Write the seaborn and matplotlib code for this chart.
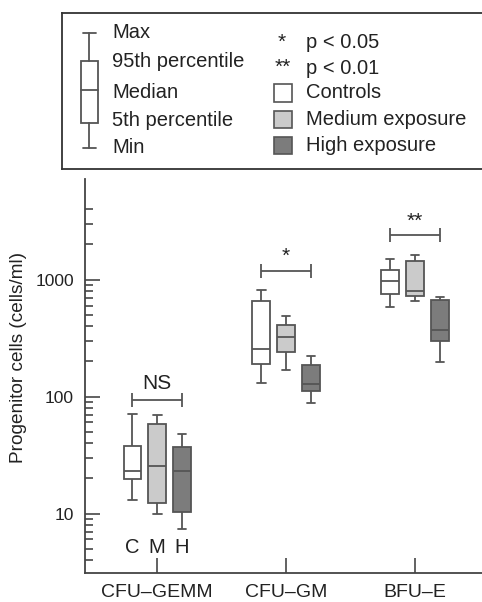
import matplotlib.pyplot as plt
from matplotlib.patches import Rectangle
from matplotlib.ticker import FixedLocator, NullFormatter
import pandas as pd
import seaborn as sns

# categories and groups
progenitors = ["CFU\u2013GEMM", "CFU\u2013GM", "BFU\u2013E"]
groups = ["Controls", "Medium exposure", "High exposure"]
group_letters = ["C", "M", "H"]
group_colors = ["#ffffff", "#cbcbcb", "#7c7c7c"]

# min, 5th percentile, median, 95th percentile, max  (cells/ml)
gemm_stats = [[13, 19.6, 23, 38, 71], [10, 12.2, 25.6, 57.7, 70], [7.4, 10.4, 23, 37.4, 47.6]]
gm_stats = [[131, 191, 254, 661, 809], [169, 239, 320, 405, 491], [88.5, 111, 129, 185, 223]]
bfue_stats = [[583, 748, 975, 1202, 1506], [661, 719, 805, 1446, 1607], [199, 301, 367, 670, 705]]

sig_labels = ["NS", "*", "**"]
sig_levels = [93, 1195, 2398]

LINE = "#555555"
TXT = "#222222"
LEG_FS = 14.5

sns.set_style("ticks")
plt.rcParams['font.family'] = ['Liberation Sans', 'DejaVu Sans']

rows = []
for prog, stats in zip(progenitors, [gemm_stats, gm_stats, bfue_stats]):
    for grp, vals in zip(groups, stats):
        for v in vals:
            rows.append({"progenitor": prog, "group": grp, "cells": v})
df = pd.DataFrame(rows)

fig = plt.figure(figsize=(4.82, 6.02), dpi=100)
ax = fig.add_axes([85 / 482, 1 - 573 / 602, 397 / 482, 393.7 / 602])

box_width = 0.58
sns.boxplot(data=df, x="progenitor", y="cells", hue="group",
            order=progenitors, hue_order=groups,
            palette=group_colors, whis=(0, 100), width=box_width, gap=0.3,
            log_scale=True, linecolor=LINE, linewidth=1.3, fliersize=0,
            legend=False, ax=ax)

offset = box_width / 3

# significance brackets
for i, (lab, lev) in enumerate(zip(sig_labels, sig_levels)):
    ax.errorbar(i, lev, xerr=offset, color=LINE, lw=1.3, capsize=5, capthick=1.3)
    mult = 1.39 if lab == "NS" else 1.31
    ax.text(i, lev * mult, lab, ha="center", va="center",
            fontsize=15, color=TXT)

# C / M / H letters under first group
for j, letter in enumerate(group_letters):
    ax.text(0 + (j - 1) * offset, 5.1, letter, ha="center", va="center",
            fontsize=14.5, color=TXT)

ax.set_xlim(-0.56, 2.52)
ax.set_ylim(3.1, 7200)
ax.yaxis.set_major_locator(FixedLocator([10, 100, 1000]))
ax.set_yticklabels(["10", "100", "1000"])
minor = [4, 5, 6, 7, 8, 9] + [20, 30, 40, 50, 60, 70, 80, 90] + \
        [200, 300, 400, 500, 600, 700, 800, 900] + [2000, 3000, 4000]
ax.yaxis.set_minor_locator(FixedLocator(minor))
ax.yaxis.set_minor_formatter(NullFormatter())

ax.tick_params(axis="y", which="major", direction="in", length=11, width=1.3,
               color=LINE, labelsize=12.5, pad=8, labelcolor=TXT)
ax.tick_params(axis="y", which="minor", direction="in", length=6, width=1.3, color=LINE)
ax.tick_params(axis="x", direction="in", length=11, width=1.3, color=LINE,
               labelsize=14, pad=8, labelcolor=TXT)

ax.set_xlabel("")
ax.set_ylabel("Progenitor cells (cells/ml)", fontsize=13.7, color=TXT)
ax.yaxis.set_label_coords(-0.146, 0.547)
for side in ["top", "right"]:
    ax.spines[side].set_visible(False)
for side in ["left", "bottom"]:
    ax.spines[side].set_color("#444444")
    ax.spines[side].set_linewidth(1.3)

# legend panel, in pixel units of its own box
lax = fig.add_axes([62 / 482, 1 - 169 / 602, 422 / 482, 156 / 602])
lax.set_xlim(0, 422)
lax.set_ylim(156, 0)
lax.set_xticks([])
lax.set_yticks([])
lax.patch.set_alpha(0)
for side, sp in lax.spines.items():
    sp.set_color("#333333")
    sp.set_linewidth(1.3)
lax.spines["right"].set_visible(False)

gx = 27.3
lax.plot([gx, gx], [19.7, 48], color=LINE, lw=1.3)
lax.plot([gx, gx], [110, 135], color=LINE, lw=1.3)
lax.plot([21, 34], [19.7, 19.7], color=LINE, lw=1.3)
lax.plot([21, 34], [135, 135], color=LINE, lw=1.3)
lax.add_patch(Rectangle((19, 48), 16.7, 62, facecolor="white", edgecolor=LINE, lw=1.3))
lax.plot([19, 35.7], [77, 77], color=LINE, lw=1.3)

stat_names = ["Max", "95th percentile", "Median", "5th percentile", "Min"]
stat_y = [19.5, 48.5, 79, 108, 134.5]
for name, y in zip(stat_names, stat_y):
    lax.text(50, y, name, ha="left", va="center", fontsize=LEG_FS, color=TXT)

lax.text(220, 29, "*", ha="center", va="center", fontsize=15, color=TXT)
lax.text(244, 30, "p < 0.05", ha="left", va="center", fontsize=LEG_FS, color=TXT)
lax.text(221, 54, "**", ha="center", va="center", fontsize=15, color=TXT)
lax.text(244, 55, "p < 0.01", ha="left", va="center", fontsize=LEG_FS, color=TXT)

for grp, col, y in zip(groups, group_colors, [80, 106.5, 132.5]):
    lax.add_patch(Rectangle((212, y - 8.7), 18, 17.4, facecolor=col, edgecolor=LINE, lw=1.2))
    lax.text(244, y, grp, ha="left", va="center", fontsize=LEG_FS, color=TXT)

fig.savefig("out.png", dpi=100)
